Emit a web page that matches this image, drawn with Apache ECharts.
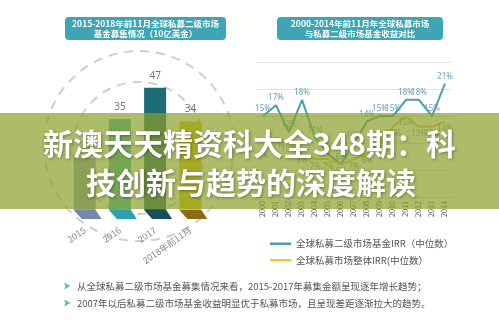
<!DOCTYPE html>
<html>
<head>
<meta charset="utf-8">
<script src="https://cdn.jsdelivr.net/npm/echarts@6/dist/echarts.min.js"></script>
<style>
html,body{margin:0;padding:0;background:#fff;}
#c{width:499px;height:327px;}
</style>
</head>
<body>
<div id="c"></div>
<script>
// ---- data ----
const barCategories = ['2015', '2016', '2017', '2018年前11月'];
const barValues = [20, 35, 47, 34];
const years = ['2000','2001','2002','2003','2004','2005','2006','2007','2008','2009','2010','2011','2012','2013','2014'];
const secondaryIRR = [15, 17, 12, 18, 11, 8, 6, 10, 14, 15, 15, 18, 18, 15, 21];
const overallIRR = [9, 11, 10, 8, 7, 7, 6, 7, 8, 10, 13, 15, 13, 13, 14];
const seriesNames = ['全球私募二级市场基金IRR（中位数）', '全球私募市场整体IRR(中位数）'];
const leftTitle = ['2015-2018年前11月全球私募二级市场', '基金募集情况（10亿美金）'];
const rightTitle = ['2000-2014年前11月年全球私募市场', '与私募二级市场基金收益对比'];
const bandTitle = ['新澳天天精资科大全348期：科', '技创新与趋势的深度解读'];
const notes = ['从全球私募二级市场基金募集情况来看，2015-2017年募集金额呈现逐年增长趋势；',
               '2007年以后私募二级市场基金收益明显优于私募市场，且呈现差距逐渐拉大的趋势。'];

const barColors = ['#8c9fbf', '#4ab2c3', '#1e6c76', '#e5c21c'];
const baseColors = ['#7589ad', '#2f9fb0', '#174f58', '#8b6c10'];
const BAR_W = 22;

const chart = echarts.init(document.getElementById('c'), null, {renderer: 'canvas'});

const titleBox = (x, w, lines) => ({
  type: 'group', z: 5,
  children: [
    {type: 'rect', shape: {x: x, y: 17, width: w, height: 23, r: 4}, style: {fill: '#3ea5b5'}},
    {type: 'text', style: {x: x + w / 2, y: 23.5, text: lines[0], fill: '#fff', font: 'bold 8.5px "Noto Sans CJK SC"', textAlign: 'center', textVerticalAlign: 'middle'}},
    {type: 'text', style: {x: x + w / 2, y: 33.5, text: lines[1], fill: '#fff', font: 'bold 8.5px "Noto Sans CJK SC"', textAlign: 'center', textVerticalAlign: 'middle'}}
  ]
});

const arrow = (y) => ({
  type: 'polygon', z: 5,
  shape: {points: [[64, y - 3.5], [70.5, y], [64, y + 3.5], [65.5, y]]},
  style: {fill: '#5bb8c8'}
});

const option = {
  animation: false,
  backgroundColor: '#ffffff',
  legend: {
    orient: 'vertical', left: 265, top: 234, itemGap: 7,
    icon: 'rect', itemWidth: 21, itemHeight: 2.5,
    textStyle: {fontSize: 9.5, color: '#555', fontFamily: 'Noto Sans CJK SC'},
    data: seriesNames
  },
  grid: [
    {left: 67, top: 80, width: 141, height: 130},
    {left: 256.5, top: 62, width: 195, height: 135}
  ],
  xAxis: [
    {type: 'category', gridIndex: 0, data: barCategories,
     axisLine: {show: false}, axisTick: {show: false},
     axisLabel: {rotate: 35, margin: 19, color: '#8a8a8a', fontSize: 9, fontFamily: 'Noto Sans CJK SC'}},
    {type: 'category', gridIndex: 1, data: years,
     axisLine: {show: true, lineStyle: {color: '#d8d8d8'}}, axisTick: {show: false},
     axisLabel: {rotate: 90, margin: 4, color: '#4a4a4a', fontSize: 8, fontFamily: 'Liberation Serif'}}
  ],
  yAxis: [
    {type: 'value', gridIndex: 0, min: 0, max: 50, show: false},
    {type: 'value', gridIndex: 1, min: 0, max: 25, interval: 5,
     axisLabel: {show: false}, axisLine: {show: false}, axisTick: {show: false},
     splitLine: {lineStyle: {color: '#e2e2e2', width: 1}}}
  ],
  series: [
    {type: 'bar', xAxisIndex: 0, yAxisIndex: 0, barWidth: BAR_W, z: 3,
     data: barValues,
     itemStyle: {color: (p) => barColors[p.dataIndex]},
     label: {show: true, position: 'top', distance: 7, color: '#777', fontSize: 10, fontFamily: 'Noto Sans'}},
    {type: 'custom', xAxisIndex: 0, yAxisIndex: 0, z: 3,
     data: barValues.map((v, i) => [i, v]),
     renderItem: (params, api) => {
       const p = api.coord([api.value(0), 0]);
       const x = p[0], y = p[1];
       return {type: 'polygon',
         shape: {points: [[x - BAR_W / 2, y], [x + BAR_W / 2, y], [x + BAR_W / 2 + 6, y + 9], [x - BAR_W / 2 + 8, y + 9]]},
         style: {fill: baseColors[params.dataIndex]}};
     }},
    {name: seriesNames[0], type: 'line', xAxisIndex: 1, yAxisIndex: 1, data: secondaryIRR,
     color: '#4d9db2', lineStyle: {width: 2, color: '#4d9db2'},
     symbol: 'circle', symbolSize: 0.1, showSymbol: true, showAllSymbol: true,
     label: {show: true, position: 'top', distance: 3, formatter: '{c}%', fontSize: 8, color: '#6d9fb4', fontFamily: 'Noto Sans'}},
    {name: seriesNames[1], type: 'line', xAxisIndex: 1, yAxisIndex: 1, data: overallIRR,
     color: '#efc83a', lineStyle: {width: 2, color: '#e9c43c'},
     symbol: 'circle', symbolSize: 0.1, showSymbol: true, showAllSymbol: true,
     label: {show: true, position: 'bottom', distance: 3, formatter: '{c}%', fontSize: 8, color: '#7f9aa6', fontFamily: 'Noto Sans'}}
  ],
  graphic: [
    {type: 'circle', z: 0, shape: {cx: 139, cy: 146, r: 95}, style: {fill: 'none', stroke: '#cfcfcf', lineWidth: 2, lineDash: [9, 7]}},
    {type: 'circle', z: 0, shape: {cx: 139, cy: 148, r: 66}, style: {fill: 'none', stroke: '#cfcfcf', lineWidth: 2, lineDash: [9, 7]}},
    titleBox(65, 161, leftTitle),
    titleBox(277, 166, rightTitle),
    {type: 'rect', z: 100, shape: {x: 0, y: 113, width: 499, height: 96}, style: {fill: 'rgba(138,160,40,0.70)'}},
    {type: 'text', z: 101, style: {x: 249.5, y: 144, text: bandTitle[0], fill: '#fff', font: 'bold 30px "Noto Sans CJK SC"', textAlign: 'center', textVerticalAlign: 'middle', textShadowColor: 'rgba(0,0,0,0.35)', textShadowBlur: 3, textShadowOffsetX: 1, textShadowOffsetY: 1}},
    {type: 'text', z: 101, style: {x: 251, y: 183, text: bandTitle[1], fill: '#fff', font: 'bold 30px "Noto Sans CJK SC"', textAlign: 'center', textVerticalAlign: 'middle', textShadowColor: 'rgba(0,0,0,0.35)', textShadowBlur: 3, textShadowOffsetX: 1, textShadowOffsetY: 1}},
    arrow(286), arrow(303),
    {type: 'text', z: 5, style: {x: 77, y: 286, text: notes[0], fill: '#555', font: '9.5px "Noto Sans CJK SC"', textVerticalAlign: 'middle'}},
    {type: 'text', z: 5, style: {x: 77, y: 303, text: notes[1], fill: '#555', font: '9.5px "Noto Sans CJK SC"', textVerticalAlign: 'middle'}}
  ]
};
chart.setOption(option);
</script>
</body>
</html>
